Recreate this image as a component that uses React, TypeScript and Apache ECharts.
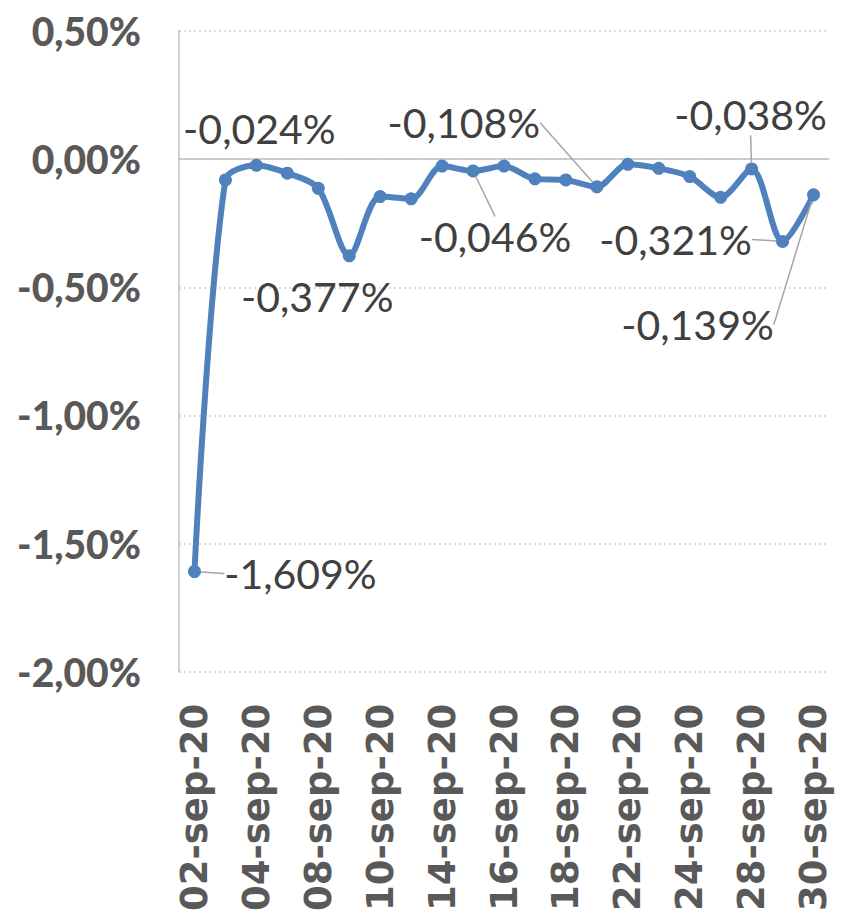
import React, { useEffect, useRef } from "react";
import * as echarts from "echarts";

const categories = [
  "02-sep-20", "03-sep-20", "04-sep-20", "07-sep-20", "08-sep-20", "09-sep-20", "10-sep-20",
  "11-sep-20", "14-sep-20", "15-sep-20", "16-sep-20", "17-sep-20", "18-sep-20", "21-sep-20",
  "22-sep-20", "23-sep-20", "24-sep-20", "25-sep-20", "28-sep-20", "29-sep-20", "30-sep-20",
];

const values = [
  -1.609, -0.081, -0.024, -0.055, -0.114, -0.377, -0.146, -0.155, -0.027, -0.046, -0.027,
  -0.077, -0.081, -0.108, -0.020, -0.036, -0.068, -0.149, -0.038, -0.321, -0.139,
];

// indices of points that carry a data label
const labelledIdx = [0, 2, 5, 9, 13, 18, 19, 20];
// indices whose label is connected by a leader line
const leaderIdx = [0, 9, 13, 18, 19, 20];

// label offsets (dx, dy) from the point, in px
const labelOffsets: Record<number, [number, number]> = {
  0: [106, 2],
  2: [3, -37],
  5: [-32, 41],
  9: [22, 66],
  13: [-133, -64],
  18: [-1, -54],
  19: [-107, -2],
  20: [-116, 130],
};

const fmtPct = (v: number, d: number) => v.toFixed(d).replace(".", ",") + "%";

export default function App() {
  const ref = useRef<HTMLDivElement>(null);

  useEffect(() => {
    document.body.style.margin = "0";
    if (!ref.current) return;
    const chart = echarts.init(ref.current, null, { renderer: "svg" });

    const data = values.map((v, i) => {
      const item: any = { value: v };
      if (labelledIdx.includes(i)) {
        item.label = { show: true };
        item.labelLine = { show: leaderIdx.includes(i) };
      }
      return item;
    });

    chart.setOption({
      animation: false,
      backgroundColor: "#ffffff",
      grid: { left: 179, right: 12, top: 31, bottom: 242, containLabel: false },
      xAxis: [
        {
          type: "category",
          data: categories,
          boundaryGap: true,
          position: "bottom",
          axisLine: { show: false, onZero: false },
          axisTick: { show: false },
          splitLine: { show: false },
          axisLabel: {
            interval: 1,
            rotate: 90,
            margin: 32,
            color: "#595959",
            fontFamily: "DejaVu Sans",
            fontWeight: "bold",
            fontSize: 37,
          },
        },
        {
          type: "category",
          data: categories,
          boundaryGap: true,
          position: "top",
          axisLine: { show: true, onZero: true, lineStyle: { color: "#bfbfbf", width: 1.5 } },
          axisTick: { show: false },
          axisLabel: { show: false },
          splitLine: { show: false },
        },
      ],
      yAxis: {
        type: "value",
        min: -2,
        max: 0.5,
        interval: 0.5,
        axisLine: { show: true, lineStyle: { color: "#bfbfbf", width: 1.5 } },
        axisTick: { show: false },
        splitLine: { show: true, lineStyle: { color: "#d0d0d0", width: 1.5, type: [2, 3] } },
        axisLabel: {
          margin: 38,
          color: "#595959",
          fontFamily: "Lato",
          fontWeight: 900,
          fontSize: 39,
          formatter: (v: number) => fmtPct(v, 2),
        },
      },
      series: [
        {
          type: "line",
          xAxisIndex: 0,
          data,
          smooth: 0.3,
          symbol: "circle",
          symbolSize: 13,
          itemStyle: { color: "#4f81bd" },
          lineStyle: { color: "#4f81bd", width: 6 },
          label: {
            show: false,
            position: "inside",
            color: "#404040",
            fontFamily: "Lato",
            fontSize: 41,
            formatter: (p: any) => fmtPct(p.value, 3),
          },
          labelLine: {
            show: false,
            lineStyle: { color: "#a6a6a6", width: 1.5 },
          },
          labelLayout: (p: any) => {
            const o = labelOffsets[p.dataIndex];
            return o ? { dx: o[0], dy: o[1] } : {};
          },
        },
      ],
    });

    return () => chart.dispose();
  }, []);

  return <div ref={ref} style={{ width: 841, height: 914 }} />;
}
